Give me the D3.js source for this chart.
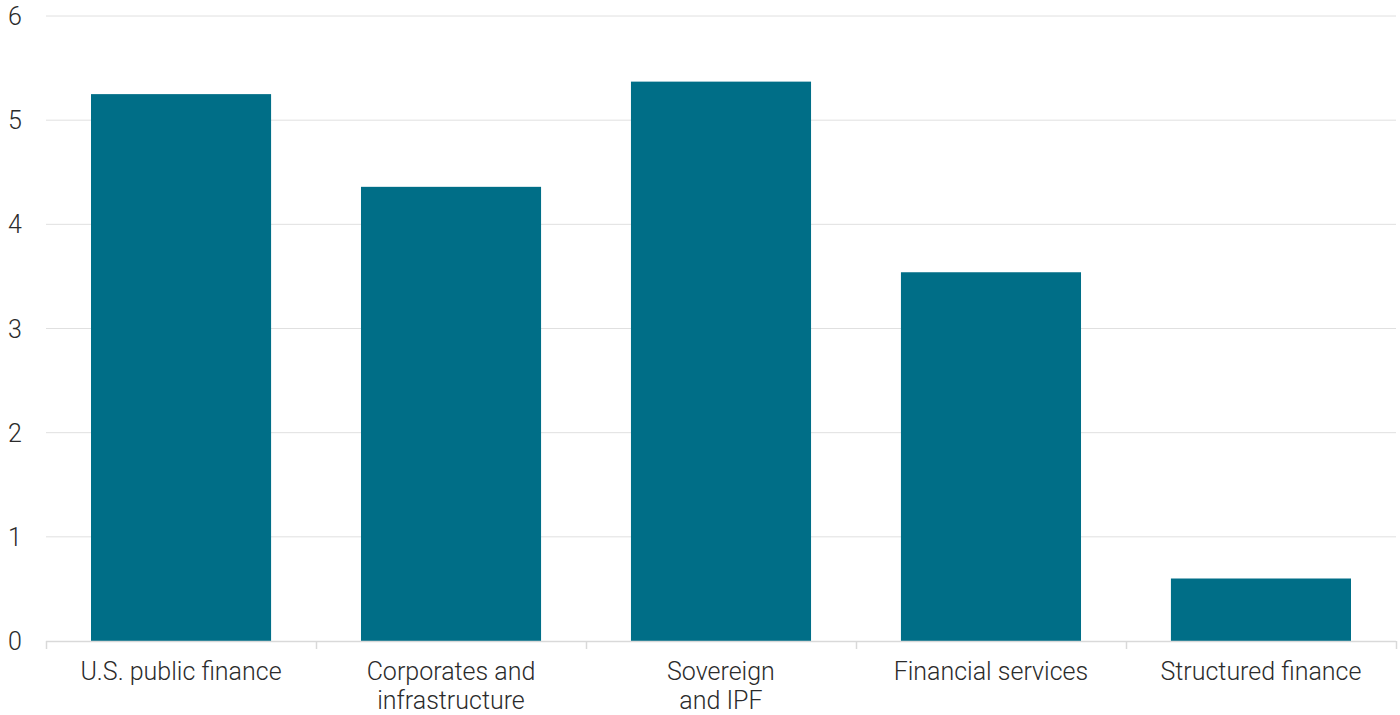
<!DOCTYPE html>
<html>
<head>
<meta charset="utf-8">
<script src="https://cdn.jsdelivr.net/npm/d3@7"></script>
<style>
  body { margin: 0; background: #fff; }
  text { font-family: Roboto, "Open Sans", sans-serif; font-weight: 300; fill: #2b2b2b; }
</style>
</head>
<body>
<div id="chart"></div>
<script>
let w = 1400;
let h = 715;

let categories = [
  ["U.S. public finance"],
  ["Corporates and", "infrastructure"],
  ["Sovereign", "and IPF"],
  ["Financial services"],
  ["Structured finance"]
];
let values = [5.25, 4.36, 5.37, 3.54, 0.60];
let yTicks = [0, 1, 2, 3, 4, 5, 6];

let plotLeft = 46;
let plotRight = 1396;
let plotTop = 16;
let plotBottom = 641;

let xScale = d3.scaleBand()
  .domain(d3.range(categories.length))
  .range([plotLeft, plotRight])
  .paddingInner(0.333)
  .paddingOuter(0.1667);

let yScale = d3.scaleLinear().domain([0, 6]).range([plotBottom, plotTop]);

let viz = d3.select("#chart").append("svg")
  .attr("width", w)
  .attr("height", h);

// gridlines
viz.append("g").selectAll("line").data(yTicks.filter(d => d > 0)).enter()
  .append("line")
  .attr("x1", plotLeft)
  .attr("x2", plotRight)
  .attr("y1", d => yScale(d))
  .attr("y2", d => yScale(d))
  .attr("stroke", "#e0e0e0")
  .attr("stroke-width", 1);

// y labels
viz.append("g").selectAll("text").data(yTicks).enter()
  .append("text")
  .attr("x", 15)
  .attr("y", d => yScale(d))
  .attr("dy", "0.36em")
  .attr("text-anchor", "middle")
  .style("font-size", "25px")
  .text(d => d);

// bars
viz.append("g").selectAll("rect").data(values).enter()
  .append("rect")
  .attr("x", (d, i) => xScale(i))
  .attr("y", d => yScale(d))
  .attr("width", xScale.bandwidth())
  .attr("height", d => yScale(0) - yScale(d))
  .attr("fill", "#006e87");

// x axis line and ticks
let step = xScale.step();
let boundaries = d3.range(categories.length + 1).map(i => plotLeft + i * step);
viz.append("line")
  .attr("x1", plotLeft).attr("x2", plotRight)
  .attr("y1", plotBottom + 0.5).attr("y2", plotBottom + 0.5)
  .attr("stroke", "#d9d9d9").attr("stroke-width", 1.5);
viz.append("g").selectAll("line").data(boundaries).enter()
  .append("line")
  .attr("x1", d => Math.round(d) + 0.5)
  .attr("x2", d => Math.round(d) + 0.5)
  .attr("y1", plotBottom)
  .attr("y2", plotBottom + 8)
  .attr("stroke", "#d9d9d9")
  .attr("stroke-width", 1.5);

// x labels
let labels = viz.append("g").selectAll("text").data(categories).enter()
  .append("text")
  .attr("text-anchor", "middle")
  .attr("transform", (d, i) => "translate(" + (plotLeft + (i + 0.5) * step) + "," + (plotBottom + 39) + ")")
  .style("font-size", "25px");
labels.selectAll("tspan").data(d => d).enter()
  .append("tspan")
  .attr("x", 0)
  .attr("dy", (d, i) => i === 0 ? 0 : 29)
  .text(d => d);
</script>
</body>
</html>
